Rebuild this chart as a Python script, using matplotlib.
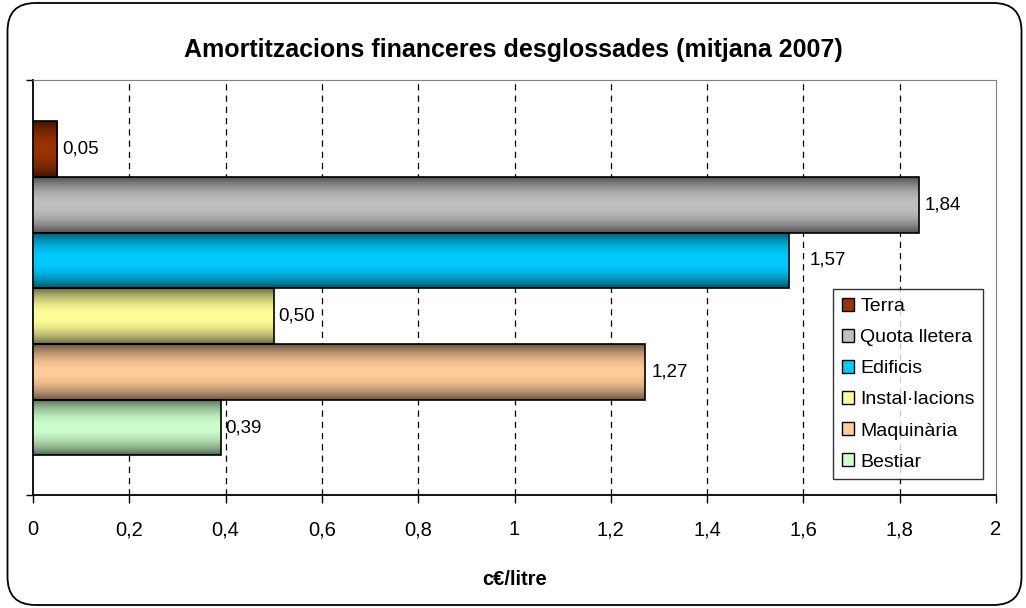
import numpy as np
import matplotlib.pyplot as plt
from matplotlib.colors import to_rgb
from matplotlib.patches import FancyBboxPatch, Rectangle
from matplotlib.ticker import FuncFormatter

# ------------------------------------------------------------
# DATA
# ------------------------------------------------------------

SERIES = ["Terra", "Quota lletera", "Edificis", "Instal·lacions", "Maquinària", "Bestiar"]
VALUES = [0.05, 1.84, 1.57, 0.50, 1.27, 0.39]
COLORS = ["#993300", "#C0C0C0", "#00CCFF", "#FFFF99", "#FFCC99", "#CCFFCC"]

TITLE = "Amortitzacions financeres desglossades (mitjana 2007)"
XLABEL = "c€/litre"
XTICKS = [0, 0.2, 0.4, 0.6, 0.8, 1.0, 1.2, 1.4, 1.6, 1.8, 2.0]

# horizontal nudge of each value label, in points
LABEL_NUDGE = [4, 4, 15, 3, 5, 3]

plt.rcParams["font.family"] = ["Liberation Sans", "DejaVu Sans"]


def comma(x, pos=None):
    s = f"{x:.1f}".rstrip("0").rstrip(".")
    return s.replace(".", ",")


def gradient_image(color, n=64):
    # dark at top and bottom, light in the middle (Excel style gradient)
    rgb = np.array(to_rgb(color))
    t = np.linspace(0, 1, n)
    f = 0.4 + 0.6 * np.sin(np.pi * t) ** 0.8
    return (f[:, None] * rgb[None, :])[:, None, :]


# ------------------------------------------------------------
# FIGURE
# ------------------------------------------------------------

W, H = 1026, 608
fig = plt.figure(figsize=(W / 100, H / 100), dpi=100)

# rounded outer frame
frame = FancyBboxPatch((0.075, 0.03), 10.14, 6.02,
                       boxstyle="round,pad=0,rounding_size=0.28",
                       transform=fig.dpi_scale_trans,
                       facecolor="white", edgecolor="black", linewidth=1.3,
                       zorder=-1)
fig.patches.append(frame)

ax = fig.add_axes([33 / W, 1 - 495 / H, (996 - 33) / W, (495 - 80) / H])
ax.patch.set_alpha(0)

h = 55.7 / 415
n = len(SERIES)
ypos = [(n / 2 - 0.5 - i) * h - 0.002 for i in range(n)]

for y, v, c, dx in zip(ypos, VALUES, COLORS, LABEL_NUDGE):
    bar = ax.barh(y, v, height=h, facecolor="none", edgecolor="black",
                  linewidth=1.2, zorder=4)[0]
    im = ax.imshow(gradient_image(c), extent=[0, v, y - h / 2, y + h / 2],
                   aspect="auto", interpolation="bilinear", zorder=3)
    im.set_clip_path(bar)
    ax.annotate(f"{v:.2f}".replace(".", ","), (v, y), xytext=(dx, 0),
                textcoords="offset points", va="center", ha="left",
                fontsize=13.5, zorder=5)

ax.set_xlim(0, 2)
ax.set_ylim(-0.5, 0.5)
ax.set_xticks(XTICKS)
ax.xaxis.set_major_formatter(FuncFormatter(comma))
ax.set_yticks([-0.5, 0.5])
ax.set_yticklabels([])
ax.tick_params(axis="x", direction="out", length=6, width=1, labelsize=14.5, pad=12)
ax.tick_params(axis="y", direction="out", length=5, width=1)

for x in XTICKS[1:-1]:
    ax.axvline(x, color="black", linewidth=0.9, linestyle=(0, (5, 4)), zorder=1)

ax.spines["left"].set_color("black")
ax.spines["left"].set_linewidth(1.3)
ax.spines["bottom"].set_color("black")
ax.spines["bottom"].set_linewidth(1.3)
ax.spines["top"].set_color("#808080")
ax.spines["right"].set_color("#808080")

ax.set_xlabel(XLABEL, fontsize=14.5, fontweight="bold", labelpad=22)
fig.text(513 / W, 1 - 50 / H, TITLE, ha="center", va="center",
         fontsize=18, fontweight="bold")

handles = [Rectangle((0, 0), 1, 1, facecolor=c, edgecolor="black", linewidth=1)
           for c in COLORS]
leg = fig.legend(handles, SERIES, loc="upper left",
                 bbox_to_anchor=(833 / W, 1 - 289 / H),
                 fontsize=14, frameon=True, fancybox=False,
                 handlelength=0.65, handleheight=0.65, handletextpad=0.3,
                 labelspacing=0.71, borderpad=0.45, borderaxespad=0)
leg.get_frame().set_edgecolor("black")
leg.get_frame().set_linewidth(1)

fig.savefig("out.png", dpi=100)
